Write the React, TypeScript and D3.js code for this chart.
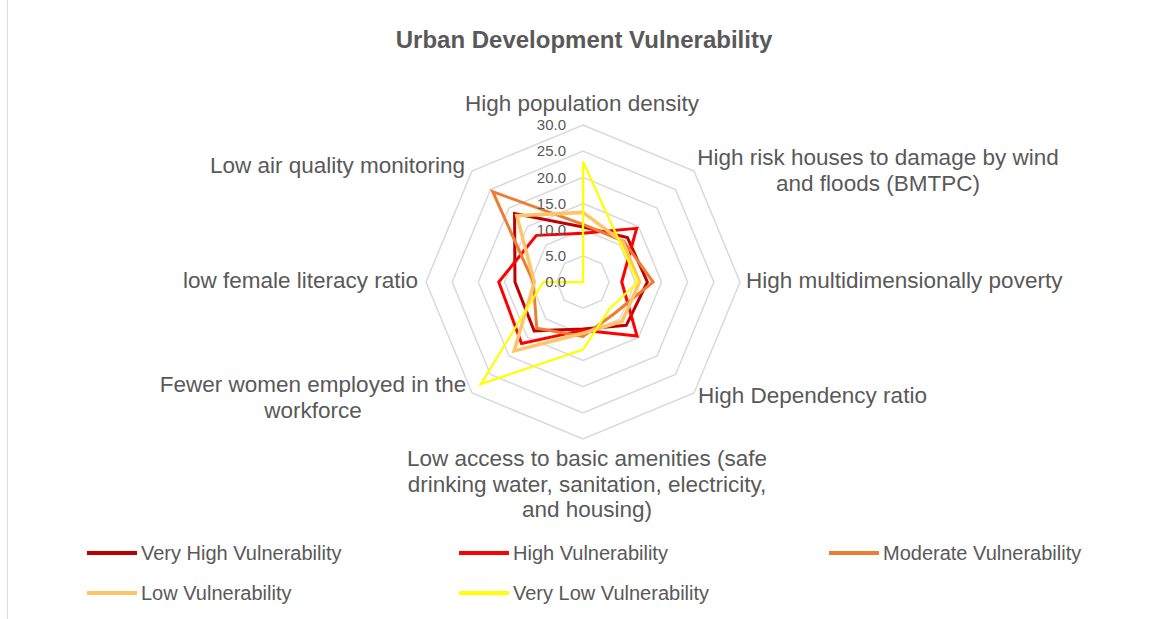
import * as d3 from 'd3'

const width = 1156
const height = 619
const cx = 583
const cy = 282
const maxR = 157

const title = 'Urban Development Vulnerability'

const axes = [
  'High population density',
  'High risk houses to damage by wind and floods (BMTPC)',
  'High multidimensionally poverty',
  'High Dependency ratio',
  'Low access to basic amenities (safe drinking water, sanitation, electricity, and housing)',
  'Fewer women employed in the workforce',
  'low female literacy ratio',
  'Low air quality monitoring',
]

const ticks = [0, 5, 10, 15, 20, 25, 30]

const seriesNames = [
  'Very High Vulnerability',
  'High Vulnerability',
  'Moderate Vulnerability',
  'Low Vulnerability',
  'Very Low Vulnerability',
]

const veryHigh = [10.5, 12, 12.3, 11.7, 9, 13.2, 13, 18.5]
const high = [9.3, 14.5, 7.4, 14.6, 9.2, 16.6, 16.1, 12.6]
const moderate = [11, 11, 13.4, 8.5, 10.4, 12.5, 9.5, 24.4]
const low = [13.3, 10.8, 10.8, 10.6, 9.8, 18.6, 9.3, 17.9]
const veryLow = [23, 10.2, 10.5, 7.2, 12.9, 27.6, 7.6, 0]

const seriesValues = [veryHigh, high, moderate, low, veryLow]
const colors = ['#C00000', '#FF0000', '#ED7D31', '#FFC466', '#FFFF00']
const strokeWidths = [3, 3, 3, 3.5, 2.25]

// axis label lines, laid out like the Excel chart
const labelLayout = [
  { lines: ['High population density'], x: 582, y: 111, anchor: 'middle' },
  { lines: ['High risk houses to damage by wind', 'and floods (BMTPC)'], x: 878, y: 165, anchor: 'middle' },
  { lines: ['High multidimensionally poverty'], x: 746, y: 288, anchor: 'start' },
  { lines: ['High Dependency ratio'], x: 698, y: 403, anchor: 'start' },
  {
    lines: ['Low access to basic amenities (safe', 'drinking water, sanitation, electricity,', 'and housing)'],
    x: 587,
    y: 466,
    anchor: 'middle',
  },
  { lines: ['Fewer women employed in the', 'workforce'], x: 313, y: 392, anchor: 'middle' },
  { lines: ['low female literacy ratio'], x: 418, y: 288, anchor: 'end' },
  { lines: ['Low air quality monitoring'], x: 465, y: 173, anchor: 'end' },
]

const legendCols = [87, 459, 829]
const legendRows = [553, 593]

const font = '"Liberation Sans", Arial, sans-serif'
const textColor = '#595959'

const App = () => {
  const rScale = d3.scaleLinear().domain([0, 30]).range([0, maxR])
  const angle = d3
    .scaleLinear()
    .domain([0, axes.length])
    .range([0, 2 * Math.PI])

  const radar = d3
    .lineRadial<number>()
    .angle((_, i) => angle(i))
    .radius((d) => rScale(d))
    .curve(d3.curveLinearClosed)

  const rings = ticks.filter((t) => t > 0)

  return (
    <svg
      width={width}
      height={height}
      style={{ position: 'absolute', left: 0, top: 0, background: '#fff' }}
      fontFamily={font}
    >
      <rect x={7.5} y={-2} width={width + 10} height={height + 10} fill="#fff" stroke="#d9d9d9" />
      <text x={584} y={48} textAnchor="middle" fontSize={24} fontWeight="bold" fill={textColor}>
        {title}
      </text>

      <g transform={`translate(${cx}, ${cy})`}>
        {rings.map((t) => (
          <path
            key={t}
            d={radar(axes.map(() => t)) ?? ''}
            fill="none"
            stroke="#d9d9d9"
            strokeWidth={1.5}
          />
        ))}
        {seriesValues.map((vals, i) => (
          <path
            key={seriesNames[i]}
            d={radar(vals) ?? ''}
            fill="none"
            stroke={colors[i]}
            strokeWidth={strokeWidths[i]}
            strokeLinejoin="miter"
          />
        ))}
        {ticks.map((t) => (
          <text
            key={t}
            x={-17}
            y={-rScale(t)}
            dy="0.35em"
            textAnchor="end"
            fontSize={15}
            fill={textColor}
          >
            {t.toFixed(1)}
          </text>
        ))}
      </g>

      {labelLayout.map((l, i) => (
        <text key={axes[i]} textAnchor={l.anchor} fontSize={22.5} fill={textColor}>
          {l.lines.map((line, j) => (
            <tspan key={j} x={l.x} y={l.y + j * 25.5}>
              {line}
            </tspan>
          ))}
        </text>
      ))}

      {seriesNames.map((name, i) => {
        const x = legendCols[i % 3]
        const y = legendRows[Math.floor(i / 3)]
        return (
          <g key={name} transform={`translate(${x}, ${y})`}>
            <line x1={0} x2={50} y1={0} y2={0} stroke={colors[i]} strokeWidth={4} />
            <text x={54} y={0} dy="0.35em" fontSize={20} fill={textColor}>
              {name}
            </text>
          </g>
        )
      })}
    </svg>
  )
}

export default App
